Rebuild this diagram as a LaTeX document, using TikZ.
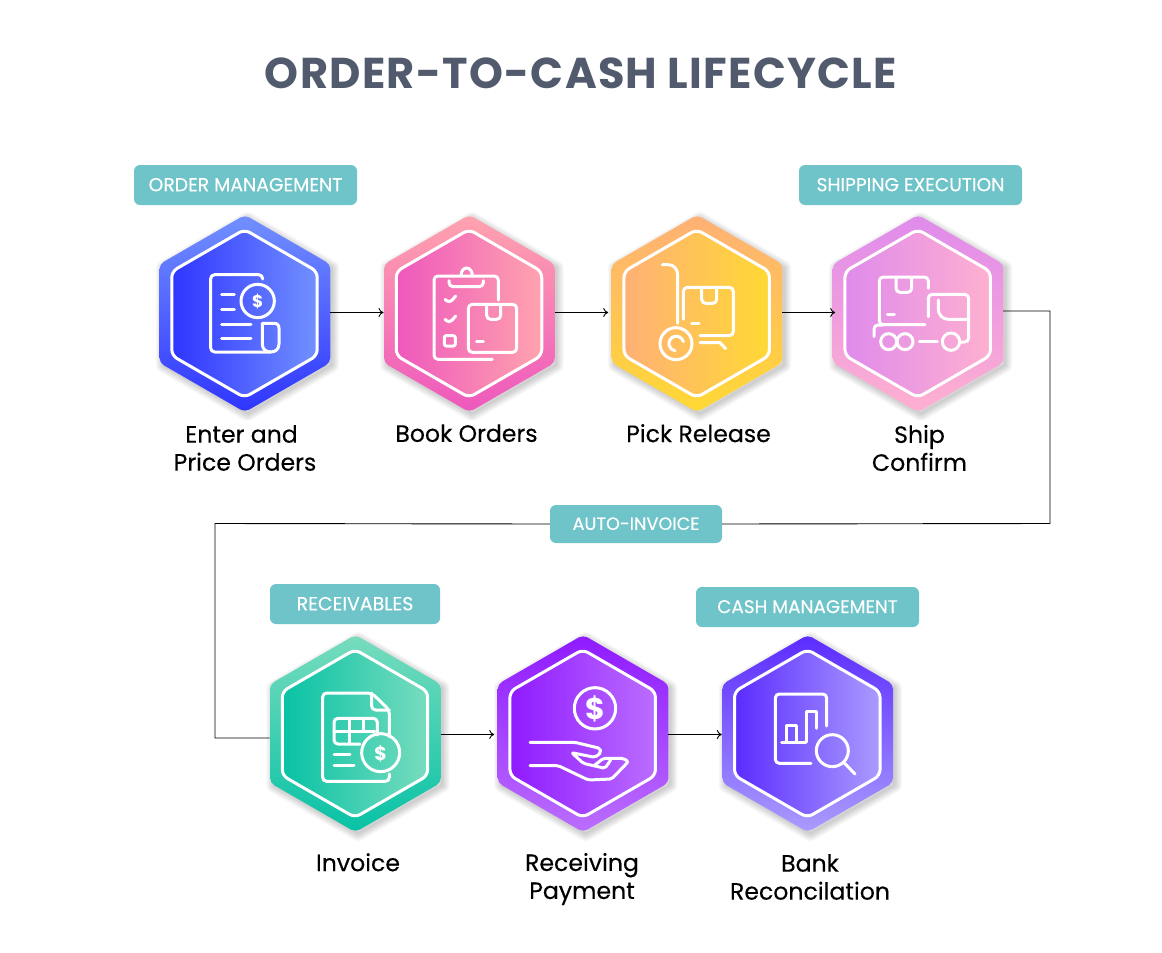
\documentclass[tikz,border=0pt]{standalone}
\usepackage{fontspec}
\setmainfont{Poppins}
\newfontfamily\medfont[FakeBold=0.25]{Poppins}
\newfontfamily\titlefont[LetterSpace=3]{Poppins Bold}
\usetikzlibrary{arrows.meta}
\definecolor{ink}{HTML}{525A6E}
\definecolor{teal}{HTML}{6EC4C8}
\definecolor{aT}{HTML}{7290FF}\definecolor{aB}{HTML}{2F35FF}
\definecolor{bT}{HTML}{FFA3AE}\definecolor{bB}{HTML}{EE58BD}
\definecolor{cT}{HTML}{FFB076}\definecolor{cB}{HTML}{FFD934}
\definecolor{dT}{HTML}{DF8BEC}\definecolor{dB}{HTML}{FFB0D0}
\definecolor{eT}{HTML}{78DCBE}\definecolor{eB}{HTML}{08C2A5}
\definecolor{fT}{HTML}{8F1AFF}\definecolor{fB}{HTML}{BB6DFF}
\definecolor{gT}{HTML}{5B2CFF}\definecolor{gB}{HTML}{AB9BFF}
\tikzset{
  tagbox/.style={fill=teal,rounded corners=6pt,inner sep=0pt,text=white,font=\medfont\fontsize{#1}{20}\selectfont},
  caption/.style={align=center,text=black,font=\medfont\fontsize{23.6}{28}\selectfont,inner sep=0pt},
  link/.style={draw=black,line width=0.9pt},
  arrowlink/.style={link,-{To[length=5pt,width=9pt]}},
  icon/.style={draw=white,line width=3pt,line cap=round,line join=round,rounded corners=4pt},
  dollar/.style={text=white,inner sep=0pt,font=\fontsize{#1}{#1}\selectfont\bfseries},
  hexbound/.style={minimum width=171pt,minimum height=195pt,inner sep=0pt,outer sep=0pt},
  zoomA/.style={shift={(130pt,-160pt)},x=0.33333pt,y=-0.33333pt},
  zoomB/.style={shift={(600pt,-160pt)},x=0.33333pt,y=-0.33333pt},
  zoomC/.style={shift={(260pt,-620pt)},x=0.33333pt,y=-0.33333pt},
  zoomD/.style={shift={(660pt,-620pt)},x=0.33333pt,y=-0.33333pt},
}
% hexagon outline: centre x, centre y, radius
\newcommand\hexoutline[3]{(#1,#2-#3) -- (#1+0.866*#3,#2-0.5*#3) -- (#1+0.866*#3,#2+0.5*#3) -- (#1,#2+#3) -- (#1-0.866*#3,#2+0.5*#3) -- (#1-0.866*#3,#2-0.5*#3) -- cycle}
% name, x, y, top colour, bottom colour, inner left colour, inner right colour
\newcommand\hexa[7]{%
  \foreach \k in {1,...,7}{
    \draw[black,opacity=0.028,line width=\k*2.2pt,line join=round] \hexoutline{#2+3}{#3+3}{97};
  }
  \path[rounded corners=5pt,top color=#4,bottom color=#5] \hexoutline{#2+0.4}{#3}{98.6};
  \path[rounded corners=6pt,draw=white,line width=3pt,left color=#6,right color=#7] \hexoutline{#2}{#3}{84};
  \node[hexbound] (#1) at (#2,#3) {};
}
\begin{document}
\begin{tikzpicture}[x=1pt,y=-1pt]
\path[fill=white,use as bounding box] (0,0) rectangle (1162,953);

\node[text=ink,inner sep=0pt] (title) at (581,73) {\resizebox{632pt}{!}{\titlefont ORDER-TO-CASH LIFECYCLE}};

\hexa{h1}{244.5}{313.5}{aT}{aB}{aB}{aT}
\hexa{h2}{469}{313.5}{bT}{bB}{bB}{bT}
\hexa{h3}{696.7}{313.5}{cT}{cB}{cT}{cB}
\hexa{h4}{917.7}{313.5}{dT}{dB}{dT}{dB}
\hexa{h5}{355}{733.5}{eT}{eB}{eB}{eT}
\hexa{h6}{582.7}{733.5}{fT}{fB}{fT}{fB}
\hexa{h7}{807.3}{733.5}{gT}{gB}{gT}{gB}

% tags
\node[tagbox=18.8,minimum width=223pt,minimum height=40pt] (tOrder) at (245.5,185) {\raisebox{0.8pt}{ORDER MANAGEMENT}};
\node[tagbox=18.7,minimum width=223pt,minimum height=40pt] (tShip) at (910.5,185) {\raisebox{0.8pt}{SHIPPING EXECUTION}};
\node[tagbox=19,minimum width=170pt,minimum height=40pt] (tRec) at (355,604) {\raisebox{0.8pt}{RECEIVABLES}};
\node[tagbox=18.4,minimum width=223pt,minimum height=40pt] (tCash) at (807.5,607) {\raisebox{0.8pt}{CASH MANAGEMENT}};
\node[tagbox=17.7,minimum width=172pt,minimum height=38pt] (tAuto) at (636,524) {\raisebox{0.8pt}{AUTO-INVOICE}};

% captions
\node[caption] (c1) at (245,448) {Enter and\hspace*{7pt}\\Price Orders};
\node[caption] (c2) at (466.5,433.2) {Book Orders};
\node[caption] (c3) at (698.5,433.2) {Pick Release};
\node[caption] (c4) at (919.5,448) {Ship\\Confirm};
\node[caption] (c5) at (358,862.3) {Invoice};
\node[caption] (c6) at (582,879) {Receiving\\Payment};
\node[caption] (c7) at (810,877) {Bank\\Reconcilation};

% connectors
\draw[arrowlink] ([yshift=1pt]h1.east) -- ([yshift=1pt]h2.west);
\draw[arrowlink] ([yshift=1pt]h2.east) -- ([yshift=1pt,xshift=-3pt]h3.west);
\draw[arrowlink] ([yshift=1pt]h3.east) -- ([yshift=1pt,xshift=3pt]h4.west);
\coordinate (bendR) at (1050,523.5);
\coordinate (bendL) at (215,523.5);
\coordinate (inV) at (215,738);
\draw[link] ([yshift=2.5pt]h4.east) -| (bendR) -- (tAuto.east);
\draw[link] (tAuto.west) -- (bendL) -- (inV) -- (inV -| h5.west);
\draw[arrowlink] ([yshift=-1pt]h5.east) -- ([yshift=-1pt,xshift=-3pt]h6.west);
\draw[arrowlink] ([yshift=-1pt]h6.east) -- ([yshift=-1pt]h7.west);

% icon 1: invoice
\begin{scope}[zoomA]
\draw[icon] (398,357) -- (398,344) -- (242,344) -- (242,576) -- (422,576);
\draw[icon,rounded corners=0pt] (397,490) -- (432,490) .. controls (442,490) and (447,495) .. (447,505) -- (447,552) .. controls (447,568) and (436,576) .. (422,576) .. controls (408,576) and (397,568) .. (397,552) -- cycle;
\draw[icon] (383,423) circle (50);
\node[dollar=17] (d1) at (383,424) {\$};
\draw[icon] (275,403) -- (313,403) (275,448) -- (313,448) (275,493) -- (363,493) (275,535) -- (363,535);
% icon 2: clipboard and box
\draw[icon] (1105,420) -- (1105,348) -- (912,348) -- (912,598) -- (1087,598);
\draw[icon] (957,362) -- (957,380) -- (1060,380) -- (1060,362);
\draw[icon,rounded corners=0pt] (993,348) .. controls (993,316) and (1027,316) .. (1027,348);
\draw[icon] (945,418) -- (958,430) -- (977,408) (945,478) -- (958,490) -- (977,468);
\draw[icon,rounded corners=2pt] (943,527) rectangle (976,558);
\draw[icon] (1015,433) rectangle (1160,577);
\draw[icon] (1070,435) -- (1070,478) -- (1112,478) -- (1112,435);
\draw[icon] (1040,544) -- (1060,544);
\end{scope}

\begin{scope}[zoomB]
% icon 3: hand truck
\draw[icon,rounded corners=0pt] (187,314) -- (205,314) .. controls (222,314) and (233,328) .. (233,345) -- (233,490);
\draw[icon] (250,478) -- (250,382) -- (400,382) -- (400,527) -- (300,527);
\draw[icon] (305,384) -- (305,430) -- (350,430) -- (350,384);
\draw[icon] (275,489) -- (297,489);
\draw[icon] (228,551) circle (48);
\draw[icon,rounded corners=0pt] (250,545) arc[start angle=-15,end angle=-260,radius=22];
\draw[icon,rounded corners=0pt] (300,548) -- (360,548) -- (377,566);
% icon 4: truck
\draw[icon] (985,385) -- (985,351) -- (838,351) -- (838,494) -- (975,494);
\draw[icon] (888,353) -- (888,397) -- (935,397) -- (935,353);
\draw[icon] (862,464) -- (883,464);
\draw[icon] (985,470) -- (985,403) -- (1106,403) -- (1106,546) -- (1082,546);
\draw[icon,rounded corners=10pt] (1015,420) -- (1015,478) -- (1106,478);
\draw[icon] (822,530) -- (822,495) -- (848,495);
\draw[icon] (866,545) circle (24) (915,545) circle (24) (1053,545) circle (26);
\draw[icon] (958,545) -- (1012,545);
\end{scope}

\begin{scope}[zoomC]
% icon 5: spreadsheet
\draw[icon] (388,350) -- (388,270) -- (335,219) -- (188,219) -- (188,484) -- (388,484) -- (388,462);
\draw[icon] (335,219) -- (335,270) -- (388,270);
\draw[icon] (300,372) -- (222,372) -- (222,295) -- (352,295) -- (352,345);
\draw[icon,rounded corners=0pt] (268,295) -- (268,372) (310,295) -- (310,335) (222,335) -- (345,335);
\draw[icon] (362,398) circle (57);
\node[dollar=19] (d5) at (362,400) {\$};
\draw[icon] (222,402) -- (270,402) (222,436) -- (282,436);
% icon 6: hand and coin
\draw[icon] (1005,265) circle (62);
\node[dollar=30] (d6) at (1005,266) {\$};
\draw[icon,rounded corners=2pt] (810,367) -- (945,367) -- (1020,385) -- (1023,398) -- (1005,412) -- (935,398) -- (970,430) -- (1035,445) -- (1052,420);
\draw[icon,rounded corners=2pt] (1005,435) -- (1030,415) -- (1090,415) -- (1105,425) -- (1055,477) -- (985,480) -- (895,437) -- (810,437);
\end{scope}

\begin{scope}[zoomD]
% icon 7: chart and magnifier
\draw[icon] (500,318) -- (500,222) -- (346,222) -- (346,430) -- (453,430);
\draw[icon,rounded corners=0pt] (378,365) -- (378,317) -- (408,317) -- (408,365);
\draw[icon,rounded corners=0pt] (438,365) -- (438,275) -- (470,275) -- (470,325);
\draw[icon] (365,368) -- (438,368);
\draw[icon] (517,392) circle (48);
\draw[icon] (552,428) -- (585,462);
\end{scope}
\end{tikzpicture}
\end{document}
